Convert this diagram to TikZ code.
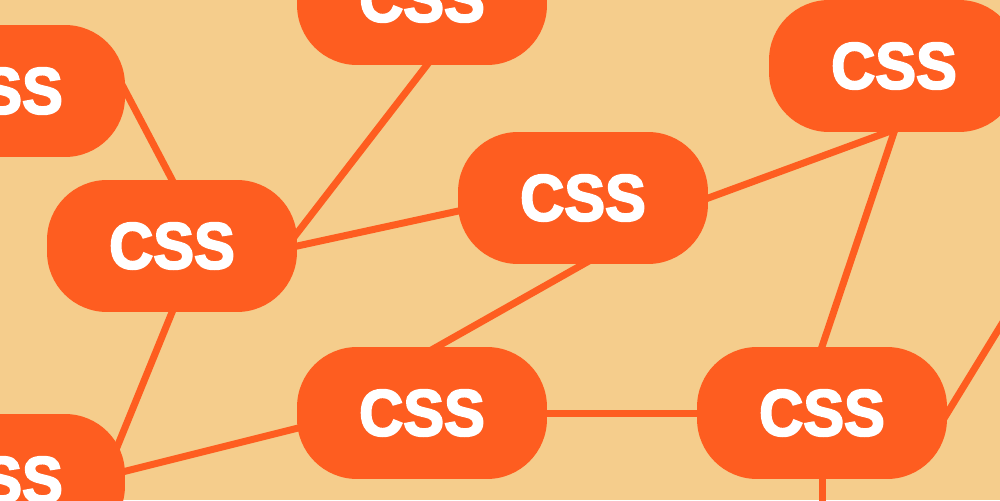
\documentclass[tikz,border=0pt]{standalone}
\usepackage{fontspec}
\usetikzlibrary{backgrounds}
\newfontfamily\pillfont{Liberation Sans}[FakeStretch=0.93,FakeBold=3]
\definecolor{sand}{HTML}{F5CD8C}
\definecolor{flame}{HTML}{FE5D20}

\begin{document}
\begin{tikzpicture} [x=0.02cm,y=-0.02cm]
  \tikzstyle{pill}=[rectangle,rounded corners=1.2cm,fill=flame,text=white,minimum width=5cm,minimum height=2.64cm,inner sep=0pt,font=\pillfont\bfseries\fontsize{37.4}{40}\selectfont]
  \tikzstyle{every edge}=[draw=flame,line width=0.14cm,shorten <=-0.5cm,shorten >=-0.5cm]

  \useasboundingbox (0,0) rectangle (1000,500);

  \node[pill] (TL) at (0,91)    {CSS};
  \node[pill] (TC) at (422,-1)  {CSS};
  \node[pill] (TR) at (894,66)  {CSS};
  \node[pill] (ML) at (172,246) {CSS};
  \node[pill] (MC) at (583,198) {CSS};
  \node[pill] (BC) at (422,413) {CSS};
  \node[pill] (BR) at (822,413) {CSS};
  \node[pill] (BL) at (0,480)   {CSS};
  \coordinate (R) at (1030,278);
  \coordinate (D) at (822,540);

  \begin{pgfonlayer}{background}
    \fill[sand] (0,0) rectangle (1000,500);
    \path
      (TL.east)  edge (ML.north)
      (TC.-86)   edge (ML.6)
      (ML.east)  edge (MC.186)
      (MC.east)  edge (TR.-96)
      (TR.south) edge (BR.north)
      (MC.south) edge (BC.77)
      (ML.south) edge (BL.23)
      (BC.187)   edge (BL.4)
      (BC.east)  edge (BR.west)
      (BR.east)  edge (R)
      (BR.south) edge (D);
  \end{pgfonlayer}
\end{tikzpicture}
\end{document}
